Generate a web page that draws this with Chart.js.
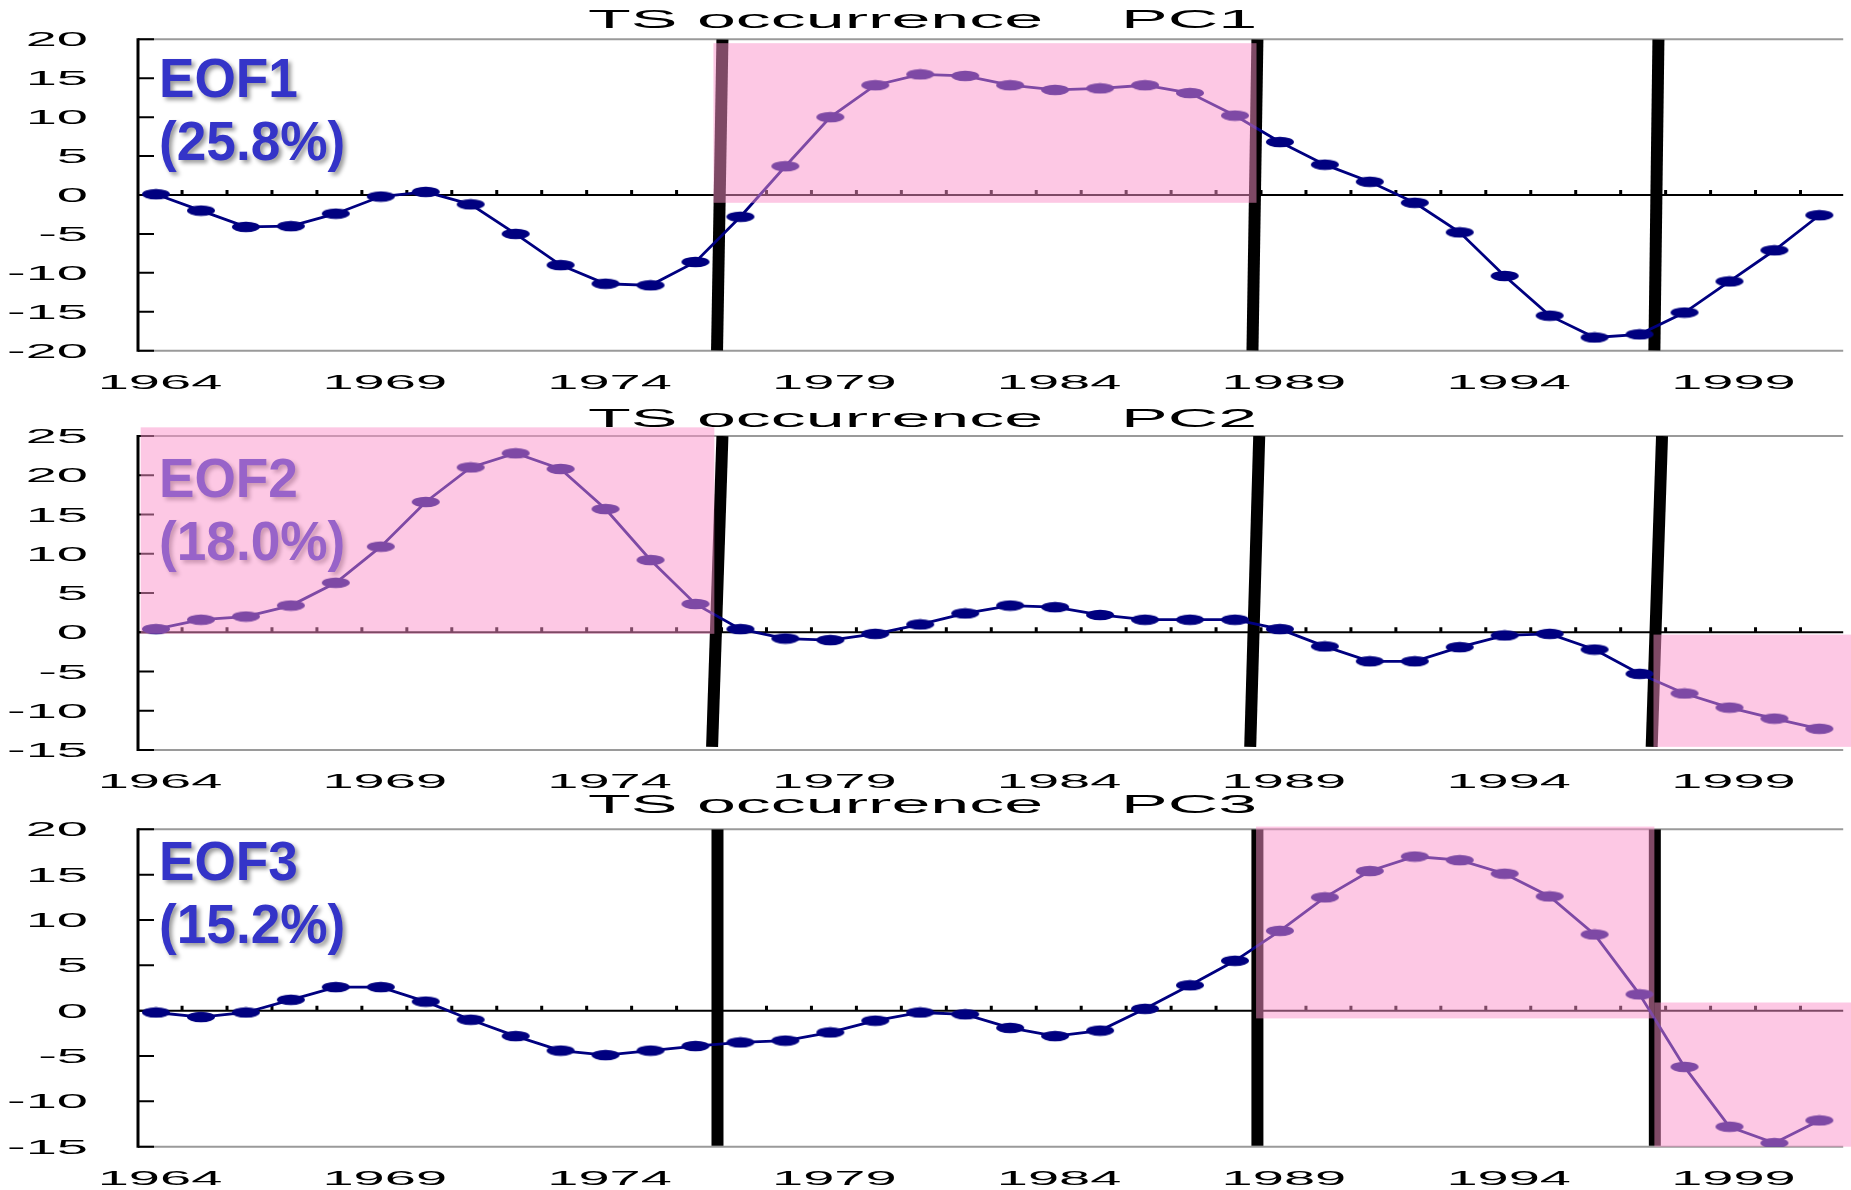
<!DOCTYPE html>
<html>
<head>
<meta charset="utf-8">
<title>TS occurrence PC1 / PC2 / PC3</title>
<script src="https://cdn.jsdelivr.net/npm/chart.js@4.4.1/dist/chart.umd.min.js"></script>
<style>
  html, body { margin: 0; padding: 0; background: #fff; }
  #wrap { position: relative; width: 1851px; height: 1190px; overflow: hidden; }
  canvas { position: absolute; left: 0; }
</style>
</head>
<body>
<div id="wrap">
  <canvas id="pc1" width="1851" height="395" style="top:0"></canvas>
  <canvas id="pc2" width="1851" height="395" style="top:395px"></canvas>
  <canvas id="pc3" width="1851" height="400" style="top:790px"></canvas>
</div>
<script>
// ── Data ─────────────────────────────────────────────────────
const years = [1964, 1965, 1966, 1967, 1968, 1969, 1970, 1971, 1972, 1973,
               1974, 1975, 1976, 1977, 1978, 1979, 1980, 1981, 1982, 1983,
               1984, 1985, 1986, 1987, 1988, 1989, 1990, 1991, 1992, 1993,
               1994, 1995, 1996, 1997, 1998, 1999, 2000, 2001];

const pc1 = [0.1, -2.0, -4.1, -4.0, -2.4, -0.2, 0.4, -1.2, -5.0, -9.0,
             -11.4, -11.6, -8.6, -2.8, 3.7, 10.0, 14.1, 15.5, 15.3, 14.1,
             13.5, 13.7, 14.1, 13.1, 10.2, 6.8, 3.9, 1.7, -1.0, -4.8,
             -10.4, -15.5, -18.3, -17.9, -15.1, -11.1, -7.1, -2.6];

const pc2 = [0.4, 1.6, 2.0, 3.4, 6.3, 10.9, 16.6, 21.0, 22.8, 20.8,
             15.7, 9.2, 3.6, 0.4, -0.8, -1.0, -0.2, 1.0, 2.4, 3.4,
             3.2, 2.2, 1.6, 1.6, 1.6, 0.4, -1.8, -3.7, -3.7, -1.9,
             -0.4, -0.2, -2.2, -5.3, -7.8, -9.6, -11.0, -12.3];

const pc3 = [-0.2, -0.7, -0.2, 1.2, 2.6, 2.6, 1.0, -1.0, -2.8, -4.4,
             -4.9, -4.4, -3.9, -3.5, -3.3, -2.4, -1.1, -0.2, -0.4, -1.9,
             -2.8, -2.2, 0.2, 2.8, 5.5, 8.8, 12.5, 15.4, 17.0, 16.6,
             15.1, 12.6, 8.4, 1.8, -6.2, -12.8, -14.6, -12.1];

const xLabelYears = [1964, 1969, 1974, 1979, 1984, 1989, 1994, 1999];
const yTicks1 = [20, 15, 10, 5, 0, -5, -10, -15, -20];
const yTicks2 = [25, 20, 15, 10, 5, 0, -5, -10, -15];
const yTicks3 = [20, 15, 10, 5, 0, -5, -10, -15];

// regime shift bars (hand drawn, slightly slanted): x at top, x at bottom
const shiftTop1 = [1976.6, 1988.5, 1997.42];
const shiftBot1 = [1976.48, 1988.39, 1997.33];
const shiftTop2 = [1976.6, 1988.54, 1997.5];
const shiftBot2 = [1976.37, 1988.34, 1997.27];
const shiftTop3 = [1976.49, 1988.5, 1997.34];
const shiftBot3 = [1976.49, 1988.5, 1997.34];

// shaded phases: [x from, x to, y top, y bottom]
const phase1 = [[1976.4, 1988.48, 19.5, -1.0]];
const phase2 = [[1963.66, 1976.42, 26.1, -0.2], [1997.31, 2002, -0.3, -14.6]];
const phase3 = [[1988.47, 1997.33, 20.3, -0.85], [1997.33, 2002, 0.9, -15]];

// ── Panel setup ──────────────────────────────────────────────
const panels = {
  pc1: { title: 'TS occurrence    PC1', eof: 'EOF1', pct: '(25.8%)', values: pc1,
         yMin: -20, yMax: 20, yTicks: yTicks1, top: shiftTop1, bot: shiftBot1, shiftY: [20, -20],
         phases: phase1, padTop: 39.3, padBottom: 44.3, titleY: 28, labelDy: [57.4, 120.7] },
  pc2: { title: 'TS occurrence    PC2', eof: 'EOF2', pct: '(18.0%)', values: pc2,
         yMin: -15, yMax: 25, yTicks: yTicks2, top: shiftTop2, bot: shiftBot2, shiftY: [25, -14.6],
         phases: phase2, padTop: 41, padBottom: 40, titleY: 32, labelDy: [60.7, 124] },
  pc3: { title: 'TS occurrence    PC3', eof: 'EOF3', pct: '(15.2%)', values: pc3,
         yMin: -15, yMax: 20, yTicks: yTicks3, top: shiftTop3, bot: shiftBot3, shiftY: [20, -14.9],
         phases: phase3, padTop: 39.3, padBottom: 43.3, titleY: 23, labelDy: [50.7, 114] },
};

const STRETCH = 2.8;   // the original figure is stretched wide

function wideText(ctx, text, x, y, align, size) {
  ctx.save();
  ctx.font = size + 'px "Liberation Sans", Arial, sans-serif';
  ctx.fillStyle = '#000';
  ctx.textAlign = align;
  ctx.textBaseline = 'alphabetic';
  ctx.translate(x, y);
  ctx.scale(STRETCH, 1);
  ctx.fillText(text, 0, 0);
  ctx.restore();
}

// ellipse marker (stretched dot)
const marker = document.createElement('canvas');
marker.width = 30;
marker.height = 12;
const mctx = marker.getContext('2d');
mctx.fillStyle = '#000080';
mctx.beginPath();
mctx.ellipse(15, 6, 14, 5.2, 0, 0, Math.PI * 2);
mctx.fill();

// ── Axes, labels and shading ─────────────────────────────────
const framePlugin = {
  id: 'frame',
  beforeDatasetsDraw(chart) {
    const p = panels[chart.canvas.id];
    const { ctx, chartArea: a } = chart;
    const x = chart.scales.x, y = chart.scales.y;
    ctx.save();
    ctx.strokeStyle = '#9a9a9a';
    ctx.lineWidth = 2;
    ctx.beginPath();
    ctx.moveTo(a.left, a.top); ctx.lineTo(a.right, a.top);
    ctx.moveTo(a.left, a.bottom); ctx.lineTo(a.right, a.bottom);
    ctx.stroke();

    const y0 = y.getPixelForValue(0);
    ctx.strokeStyle = '#000';
    ctx.lineWidth = 2;
    ctx.beginPath();
    ctx.moveTo(a.left, y0); ctx.lineTo(a.right, y0);
    ctx.stroke();

    // small ticks between years on the zero line
    ctx.lineWidth = 3;
    ctx.beginPath();
    years.slice(0, -1).forEach(yr => {
      const px = x.getPixelForValue(yr + 0.58);
      ctx.moveTo(px, y0); ctx.lineTo(px, y0 - 5);
    });
    ctx.stroke();

    // inward y ticks
    ctx.lineWidth = 2;
    ctx.beginPath();
    p.yTicks.forEach(v => {
      const py = y.getPixelForValue(v);
      ctx.moveTo(a.left, py); ctx.lineTo(a.left + 16, py);
    });
    ctx.stroke();

    ctx.lineWidth = 3;
    ctx.beginPath();
    ctx.moveTo(a.left, a.top - 1); ctx.lineTo(a.left, a.bottom + 1);
    ctx.stroke();
    ctx.restore();
  },
  afterDatasetsDraw(chart) {
    const p = panels[chart.canvas.id];
    const { ctx, chartArea: a } = chart;
    const x = chart.scales.x, y = chart.scales.y;

    // EOF labels: tall bold with soft shadow
    ctx.save();
    ctx.font = 'bold 56px "Liberation Sans", Arial, sans-serif';
    ctx.fillStyle = '#3434c8';
    ctx.shadowColor = 'rgba(0,0,0,0.4)';
    ctx.shadowBlur = 4;
    ctx.shadowOffsetX = 3;
    ctx.shadowOffsetY = 3;
    ctx.textAlign = 'left';
    ctx.textBaseline = 'alphabetic';
    [[p.eof, p.labelDy[0]], [p.pct, p.labelDy[1]]].forEach(([txt, dy]) => {
      ctx.save();
      ctx.translate(a.left + 21, a.top + dy);
      ctx.scale(0.95, 1);
      ctx.fillText(txt, 0, 0);
      ctx.restore();
    });
    ctx.restore();

    // translucent pink over everything in the phase
    ctx.save();
    ctx.fillStyle = 'rgba(251,145,201,0.5)';
    p.phases.forEach(([x0, x1, yA, yB]) => {
      const l = x.getPixelForValue(x0), r = x.getPixelForValue(x1);
      const t = y.getPixelForValue(yA), b = y.getPixelForValue(yB);
      ctx.fillRect(l, t, r - l, b - t);
    });
    ctx.restore();
  },
  afterDraw(chart) {
    const p = panels[chart.canvas.id];
    const { ctx, chartArea: a } = chart;
    const x = chart.scales.x, y = chart.scales.y;
    p.yTicks.forEach(v => wideText(ctx, String(v), 88, y.getPixelForValue(v) + 7, 'right', 20));
    xLabelYears.forEach(yr => wideText(ctx, String(yr), x.getPixelForValue(yr) + 4, a.bottom + 38, 'center', 20));
    wideText(ctx, p.title, 588, p.titleY, 'left', 25);
  }
};

Object.keys(panels).forEach(id => {
  const p = panels[id];
  const series = {
    data: years.map((yr, i) => ({ x: yr, y: p.values[i] })),
    borderColor: '#000080',
    borderWidth: 2.8,
    pointStyle: marker,
    pointRadius: 5,
    tension: 0,
    order: 0
  };
  const bars = p.top.map((xt, i) => ({
    data: [{ x: xt, y: p.shiftY[0] }, { x: p.bot[i], y: p.shiftY[1] }],
    borderColor: '#000',
    borderWidth: 12,
    pointRadius: 0,
    order: 1
  }));

  new Chart(document.getElementById(id), {
    type: 'line',
    data: { datasets: [series, ...bars] },
    options: {
      responsive: false,
      animation: false,
      devicePixelRatio: 1,
      events: [],
      layout: { padding: { left: 138, right: 0, top: p.padTop, bottom: p.padBottom } },
      scales: {
        x: { type: 'linear', min: 1963.6, max: 2001.53, display: false },
        y: { type: 'linear', min: p.yMin, max: p.yMax, display: false }
      },
      plugins: { legend: { display: false }, tooltip: { enabled: false } }
    },
    plugins: [framePlugin]
  });
});
</script>
</body>
</html>
